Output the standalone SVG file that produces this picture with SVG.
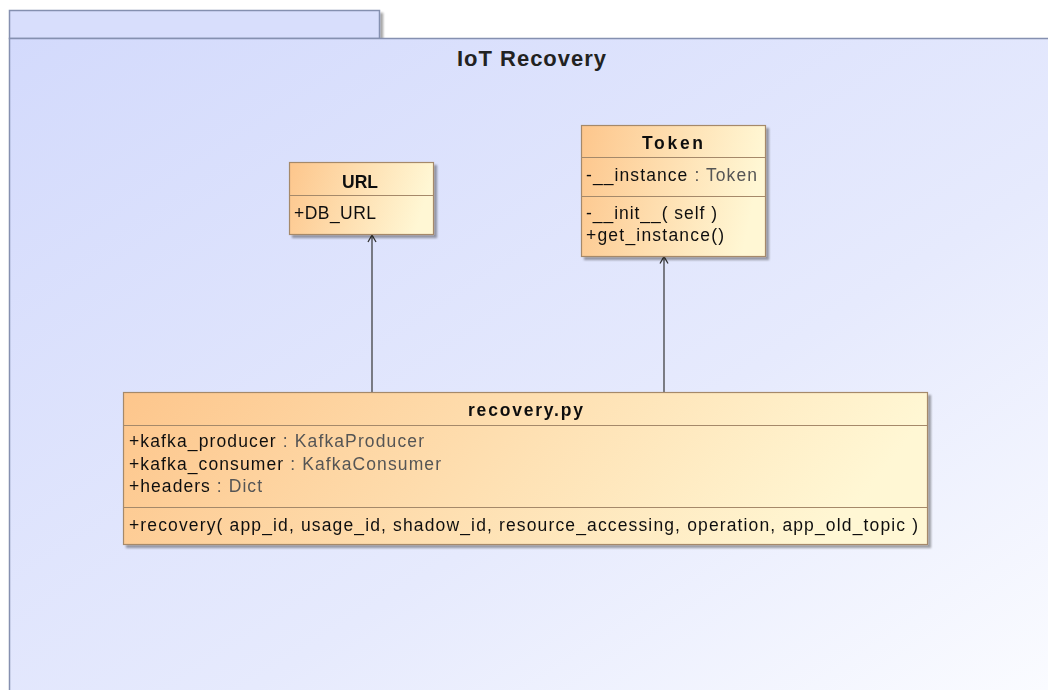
<svg xmlns="http://www.w3.org/2000/svg" width="1048" height="690" viewBox="0 0 1048 690">
<defs>
<linearGradient id="pkg" x1="0" y1="0" x2="1" y2="1" gradientUnits="objectBoundingBox">
<stop offset="0" stop-color="#d3dafc"/>
<stop offset="0.6" stop-color="#e6eafd"/>
<stop offset="1" stop-color="#fbfcff"/>
</linearGradient>
<linearGradient id="cls" x1="0" y1="0" x2="1" y2="0.15">
<stop offset="0" stop-color="#fdc68c"/>
<stop offset="1" stop-color="#fff7d4"/>
</linearGradient>
<filter id="sh" x="-5%" y="-5%" width="115%" height="120%">
<feOffset dx="3" dy="3" in="SourceAlpha" result="o"/>
<feGaussianBlur in="o" stdDeviation="1.2" result="b"/>
<feComponentTransfer in="b" result="c"><feFuncA type="linear" slope="0.35"/></feComponentTransfer>
<feMerge><feMergeNode in="c"/><feMergeNode in="SourceGraphic"/></feMerge>
</filter>
<marker id="open" markerWidth="12" markerHeight="12" refX="10" refY="6" orient="auto" markerUnits="userSpaceOnUse" viewBox="0 0 12 12">
<path d="M3,2 L10,6 L3,10" fill="none" stroke="#333" stroke-width="1.3"/>
</marker>
</defs>
<style>
.box{fill:url(#cls);stroke:#a5896a;stroke-width:1.2}
.sep{stroke:#a5896a;stroke-width:1.2}
.name{font-family:"Liberation Sans",Arial,sans-serif;font-size:17.5px;font-weight:bold;fill:#111}
.t{font-family:"Liberation Sans",Arial,sans-serif;font-size:17.5px;fill:#111}
.ty{fill:#555}
.conn{stroke:#333;stroke-width:1.2;fill:none}
</style>
<rect width="1048" height="690" fill="#ffffff"/>
<g id="package">
<rect x="9.5" y="10.5" width="370" height="28" fill="#d8defc" stroke="#8590b0" stroke-width="1.5" filter="url(#sh)"/>
<rect x="9.5" y="38.5" width="1050" height="670" fill="url(#pkg)" stroke="#8590b0" stroke-width="1.5"/>
<text x="457" y="66" font-family="'Liberation Sans',Arial,sans-serif" font-size="22" font-weight="bold" fill="#222" textLength="149" lengthAdjust="spacing">IoT Recovery</text>
</g>
<g id="connectors">
<line class="conn" x1="372" y1="392" x2="372" y2="235" marker-end="url(#open)"/>
<line class="conn" x1="664" y1="392" x2="664" y2="256.5" marker-end="url(#open)"/>
</g>
<g id="URL" filter="url(#sh)">
<rect class="box" x="289.5" y="162.5" width="144" height="72"/>
<line class="sep" x1="289.5" y1="195.5" x2="433.5" y2="195.5"/>
<text class="name" x="342" y="188" textLength="36" lengthAdjust="spacing">URL</text>
<text class="t" x="294" y="219" textLength="82" lengthAdjust="spacing">+DB_URL</text>
</g>
<g id="Token" filter="url(#sh)">
<rect class="box" x="581.5" y="125.5" width="184" height="131"/>
<line class="sep" x1="581.5" y1="157.5" x2="765.5" y2="157.5"/>
<line class="sep" x1="581.5" y1="196.5" x2="765.5" y2="196.5"/>
<text class="name" x="642" y="149" textLength="61" lengthAdjust="spacing">Token</text>
<text class="t" x="586" y="181" textLength="171" lengthAdjust="spacing">-__instance<tspan class="ty"> : Token</tspan></text>
<text class="t" x="586" y="219" textLength="131" lengthAdjust="spacing">-__init__( self )</text>
<text class="t" x="586" y="241" textLength="138" lengthAdjust="spacing">+get_instance()</text>
</g>
<g id="recovery" filter="url(#sh)">
<rect class="box" x="123.5" y="392.5" width="804" height="152"/>
<line class="sep" x1="123.5" y1="425.5" x2="927.5" y2="425.5"/>
<line class="sep" x1="123.5" y1="507.5" x2="927.5" y2="507.5"/>
<text class="name" x="468" y="416" textLength="115" lengthAdjust="spacing">recovery.py</text>
<text class="t" x="129" y="447" textLength="295" lengthAdjust="spacing">+kafka_producer<tspan class="ty"> : KafkaProducer</tspan></text>
<text class="t" x="129" y="469.5" textLength="312" lengthAdjust="spacing">+kafka_consumer<tspan class="ty"> : KafkaConsumer</tspan></text>
<text class="t" x="129" y="492" textLength="133" lengthAdjust="spacing">+headers<tspan class="ty"> : Dict</tspan></text>
<text class="t" x="129" y="531" textLength="789" lengthAdjust="spacing">+recovery( app_id, usage_id, shadow_id, resource_accessing, operation, app_old_topic )</text>
</g>
</svg>
